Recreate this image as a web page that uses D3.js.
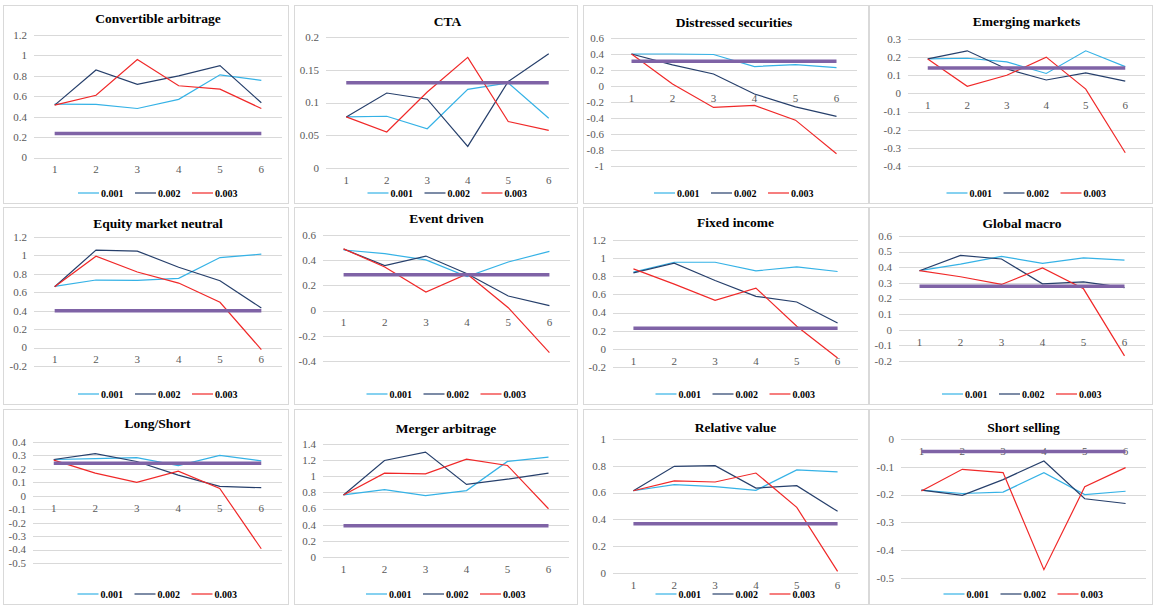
<!DOCTYPE html>
<html>
<head>
<meta charset="utf-8">
<script src="https://cdn.jsdelivr.net/npm/d3@7"></script>
<style>
    body { margin: 0; background: #fff; }
    svg { display: block; font-family: 'Liberation Serif', 'Times New Roman', serif; }
</style>
</head>
<body>
<svg width="1153" height="605"></svg>
<script>
// Data
const titles = [
    'Convertible arbitrage', 'CTA', 'Distressed securities', 'Emerging markets',
    'Equity market neutral', 'Event driven', 'Fixed income', 'Global macro',
    'Long/Short', 'Merger arbitrage', 'Relative value', 'Short selling'
];
const categories = [1, 2, 3, 4, 5, 6];
const seriesNames = ['0.001', '0.002', '0.003'];

const series001 = [
    [0.523, 0.52, 0.48, 0.57, 0.81, 0.755],
    [0.078, 0.079, 0.06, 0.12, 0.13, 0.076],
    [0.40, 0.40, 0.394, 0.243, 0.268, 0.23],
    [0.19, 0.194, 0.174, 0.11, 0.235, 0.148],
    [0.664, 0.733, 0.729, 0.751, 0.977, 1.014],
    [0.481, 0.452, 0.402, 0.27, 0.386, 0.47],
    [0.845, 0.955, 0.955, 0.86, 0.904, 0.853],
    [0.378, 0.42, 0.47, 0.425, 0.46, 0.446],
    [0.27, 0.277, 0.284, 0.225, 0.30, 0.26],
    [0.769, 0.835, 0.76, 0.823, 1.184, 1.238],
    [0.614, 0.659, 0.644, 0.617, 0.769, 0.754],
    [-0.184, -0.196, -0.191, -0.121, -0.20, -0.188]
];
const series002 = [
    [0.513, 0.857, 0.716, 0.80, 0.90, 0.536],
    [0.078, 0.1145, 0.105, 0.033, 0.132, 0.1745],
    [0.40, 0.264, 0.15, -0.10, -0.26, -0.38],
    [0.19, 0.235, 0.135, 0.074, 0.113, 0.068],
    [0.66, 1.058, 1.047, 0.872, 0.726, 0.43],
    [0.489, 0.357, 0.433, 0.293, 0.116, 0.039],
    [0.838, 0.944, 0.754, 0.579, 0.517, 0.286],
    [0.378, 0.476, 0.453, 0.294, 0.307, 0.27],
    [0.27, 0.314, 0.255, 0.154, 0.07, 0.06],
    [0.769, 1.196, 1.30, 0.90, 0.964, 1.039],
    [0.614, 0.796, 0.801, 0.634, 0.652, 0.46],
    [-0.184, -0.203, -0.146, -0.079, -0.215, -0.232]
];
const series003 = [
    [0.513, 0.61, 0.96, 0.703, 0.67, 0.48],
    [0.078, 0.055, 0.116, 0.169, 0.071, 0.0575],
    [0.40, 0.025, -0.268, -0.243, -0.427, -0.846],
    [0.19, 0.039, 0.10, 0.20, 0.024, -0.327],
    [0.66, 0.992, 0.82, 0.70, 0.492, -0.022],
    [0.49, 0.346, 0.148, 0.29, 0.023, -0.333],
    [0.882, 0.714, 0.535, 0.67, 0.25, -0.10],
    [0.378, 0.339, 0.29, 0.395, 0.262, -0.167],
    [0.265, 0.168, 0.10, 0.183, 0.055, -0.394],
    [0.769, 1.039, 1.03, 1.213, 1.134, 0.598],
    [0.614, 0.687, 0.679, 0.746, 0.49, 0.012],
    [-0.187, -0.109, -0.121, -0.47, -0.172, -0.103]
];
const thresholds = [0.235, 0.13, 0.31, 0.14, 0.40, 0.285, 0.228, 0.279, 0.242, 0.386, 0.368, -0.045];

const yTicks = [
    [0, 0.2, 0.4, 0.6, 0.8, 1, 1.2],
    [0, 0.05, 0.1, 0.15, 0.2],
    [-1, -0.8, -0.6, -0.4, -0.2, 0, 0.2, 0.4, 0.6],
    [-0.4, -0.3, -0.2, -0.1, 0, 0.1, 0.2, 0.3],
    [-0.2, 0, 0.2, 0.4, 0.6, 0.8, 1, 1.2],
    [-0.4, -0.2, 0, 0.2, 0.4, 0.6],
    [-0.2, 0, 0.2, 0.4, 0.6, 0.8, 1, 1.2],
    [-0.2, -0.1, 0, 0.1, 0.2, 0.3, 0.4, 0.5, 0.6],
    [-0.5, -0.4, -0.3, -0.2, -0.1, 0, 0.1, 0.2, 0.3, 0.4],
    [0, 0.2, 0.4, 0.6, 0.8, 1, 1.2, 1.4],
    [0, 0.2, 0.4, 0.6, 0.8, 1],
    [-0.5, -0.4, -0.3, -0.2, -0.1, 0]
];

// Layout (pixels)
const colBoxes = [[3, 288], [294, 577], [583, 868], [869, 1152]];
const rowBoxes = [[5, 203], [207, 404], [409, 604]];
const plots = [
    { left: 34, right: 282, top: 35, bottom: 157.5, titleY: 18 },
    { left: 326, right: 569, top: 37, bottom: 168, titleY: 21 },
    { left: 611, right: 857, top: 38, bottom: 166, titleY: 22 },
    { left: 908, right: 1145, top: 39, bottom: 166, titleY: 21 },
    { left: 34, right: 282, top: 237, bottom: 366, titleY: 223 },
    { left: 323, right: 570, top: 235, bottom: 361, titleY: 218 },
    { left: 613, right: 858, top: 240, bottom: 367, titleY: 222 },
    { left: 899, right: 1145, top: 236, bottom: 361, titleY: 223 },
    { left: 33, right: 282, top: 442, bottom: 563, titleY: 423 },
    { left: 323, right: 569, top: 444, bottom: 557, titleY: 428 },
    { left: 613, right: 858, top: 439, bottom: 573, titleY: 427 },
    { left: 901, right: 1146, top: 439, bottom: 578, titleY: 427 }
];
const colors = ['#35b2e6', '#263f6b', '#f02828'];
const thresholdColor = '#7f63a6';

const svg = d3.select('svg');

titles.forEach((title, i) => {
    const p = plots[i];
    const cb = colBoxes[i % 4];
    const rb = rowBoxes[Math.floor(i / 4)];
    const g = svg.append('g');

    // Panel border
    g.append('rect')
        .attr('x', cb[0] + 0.5)
        .attr('y', rb[0] + 0.5)
        .attr('width', cb[1] - cb[0])
        .attr('height', rb[1] - rb[0])
        .attr('fill', '#fff')
        .attr('stroke', '#d9d9d9');

    const ticks = yTicks[i];
    const yScale = d3.scaleLinear()
        .domain(d3.extent(ticks))
        .range([p.bottom, p.top]);
    const xScale = d3.scalePoint()
        .domain(categories)
        .range([p.left, p.right])
        .padding(0.5);

    // Gridlines
    g.selectAll('line.grid')
        .data(ticks)
        .join('line')
        .attr('class', 'grid')
        .attr('x1', p.left)
        .attr('x2', p.right)
        .attr('y1', d => Math.round(yScale(d)) + 0.5)
        .attr('y2', d => Math.round(yScale(d)) + 0.5)
        .attr('stroke', '#d9d9d9')
        .attr('stroke-width', 1);

    // Y tick labels
    g.selectAll('text.ytick')
        .data(ticks)
        .join('text')
        .attr('class', 'ytick')
        .text(d => d3.format('~g')(d).replace('−', '-'))
        .attr('x', p.left - 7)
        .attr('y', d => yScale(d))
        .attr('dy', '0.35em')
        .style('text-anchor', 'end')
        .style('font-size', '11px')
        .attr('fill', '#595959');

    // X tick labels, next to the zero line
    g.selectAll('text.xtick')
        .data(categories)
        .join('text')
        .attr('class', 'xtick')
        .text(d => d)
        .attr('x', d => xScale(d))
        .attr('y', yScale(0) + 12)
        .attr('dy', '0.35em')
        .style('text-anchor', 'middle')
        .style('font-size', '11px')
        .attr('fill', '#595959');

    // Series lines
    const line = d3.line()
        .x((d, k) => xScale(categories[k]))
        .y(d => yScale(d));
    [series001[i], series002[i], series003[i]].forEach((vals, s) => {
        g.append('path')
            .datum(vals)
            .attr('d', line)
            .attr('fill', 'none')
            .attr('stroke', colors[s])
            .attr('stroke-width', 1.2);
    });

    // Threshold line
    g.append('line')
        .attr('x1', xScale(categories[0]))
        .attr('x2', xScale(categories[categories.length - 1]))
        .attr('y1', yScale(thresholds[i]))
        .attr('y2', yScale(thresholds[i]))
        .attr('stroke', thresholdColor)
        .attr('stroke-width', 3.5);

    // Title
    g.append('text')
        .text(title)
        .attr('x', (p.left + p.right) / 2)
        .attr('y', p.titleY)
        .attr('dy', '0.35em')
        .style('text-anchor', 'middle')
        .style('font-size', '13.5px')
        .style('font-weight', 'bold')
        .attr('fill', '#000');

    // Legend
    const legendY = rb[1] - 10;
    const legendX = (p.left + p.right) / 2 - 80;
    seriesNames.forEach((name, s) => {
        const row = g.append('g')
            .attr('transform', `translate(${legendX + s * 57}, ${legendY})`);
        row.append('line')
            .attr('x1', 0)
            .attr('x2', 21)
            .attr('stroke', colors[s])
            .attr('stroke-width', 1.2);
        row.append('text')
            .text(name)
            .attr('x', 23)
            .attr('dy', '0.35em')
            .style('font-size', '10px')
            .style('font-weight', 'bold')
            .attr('fill', '#000');
    });
});
</script>
</body>
</html>
